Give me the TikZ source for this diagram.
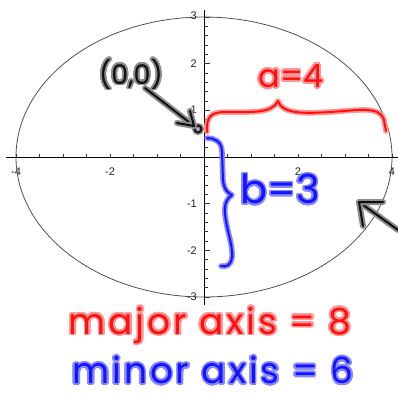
\documentclass[tikz,border=0pt]{standalone}
\usepackage{fontspec}
\setmainfont{Liberation Sans}
\newfontfamily\hand{Poppins}
\newfontfamily\handwide[LetterSpace=8]{Poppins}
\usepackage{contour}
\contourlength{1.7pt}
\contournumber{24}
\definecolor{inkred}{RGB}{255,15,15}
\definecolor{halored}{RGB}{255,150,150}
\definecolor{inkblue}{RGB}{20,20,255}
\definecolor{haloblue}{RGB}{135,135,255}
\definecolor{inkblack}{RGB}{15,15,15}
\definecolor{halogray}{RGB}{140,140,140}
\definecolor{curvegray}{RGB}{80,80,80}
\tikzset{
  redstroke/.style={draw=inkred, line width=2pt, line cap=round, line join=round,
    preaction={draw=halored, line width=5.5pt, line cap=round, line join=round}},
  bluestroke/.style={draw=inkblue, line width=2pt, line cap=round, line join=round,
    preaction={draw=haloblue, line width=5.5pt, line cap=round, line join=round}},
  blackstroke/.style={draw=inkblack, line width=2pt, line cap=round, line join=round,
    preaction={draw=halogray, line width=6pt, line cap=round, line join=round}},
  ticklab/.style={font=\fontsize{11}{11}\selectfont, inner sep=0pt, text=black!85},
  handtext/.style={inner sep=0pt},
  axisline/.style={draw=black, line width=0.9pt},
  tickline/.style={draw=black!80, line width=0.6pt}
}
\begin{document}
\begin{tikzpicture}[x=1pt,y=-1pt]
\useasboundingbox[fill=white] (0,0) rectangle (398,394);
% ellipse
\draw[curvegray, line width=0.8pt] (204,157) ellipse [x radius=188, y radius=140];
% axes
\coordinate (xl) at (6,157);
\coordinate (xr) at (398,157);
\coordinate (yt) at (204,10);
\coordinate (yb) at (204,305);
\draw[axisline] (xl) -- (xr);
\draw[axisline] (yt) -- (yb);
% x ticks
\foreach \k in {-8,...,-1,1,2,...,8}{
  \pgfmathsetmacro{\xx}{204+\k*23.5}
  \draw[tickline] (\xx,157) -- (\xx,153.5);
}
% y ticks
\foreach \k in {-15,...,-1,1,2,...,15}{
  \pgfmathsetmacro{\yy}{157-\k*9.333}
  \draw[tickline] (204,\yy) -- (207.5,\yy);
}
\foreach \k in {-3,...,-1,1,2,3}{
  \pgfmathsetmacro{\yy}{157-\k*46.67}
  \draw[tickline] (204,\yy) -- (210,\yy);
}
% tick labels
\node[ticklab] (xm4) at (16,172) {-4};
\node[ticklab] (xm2) at (110,172) {-2};
\node[ticklab] (xp2) at (298,172) {2};
\node[ticklab] (xp4) at (392,172) {4};
\node[ticklab, anchor=east] (yp3) at (197,16) {3};
\node[ticklab, anchor=east] (yp2) at (197,64) {2};
\node[ticklab, anchor=east] (yp1) at (197,110) {1};
\node[ticklab, anchor=east] (ym1) at (197,204) {-1};
\node[ticklab, anchor=east] (ym2) at (197,251) {-2};
\node[ticklab, anchor=east] (ym3) at (197,297) {-3};
% origin marker and label
\node[handtext] (zero) at (131,75) {\hand\fontsize{27}{27}\selectfont\contour{halogray}{\textcolor{inkblack}{(0,0)}}};
\node[circle, draw=inkblack, line width=1.8pt, minimum size=7pt, inner sep=0pt,
      preaction={draw=halogray, line width=5pt}] (dot) at (198,129) {};
\coordinate (tipA) at (194,126);
\draw[blackstroke] (145,88) -- (tipA);
\draw[blackstroke] (177,123) -- (tipA) -- (190,111);
% red brace (a)
\draw[redstroke] (207,132) .. controls (206,118) and (210,112) .. (225,112)
  .. controls (250,112) and (272,114) .. (278,101)
  .. controls (282,113) and (300,114) .. (330,112)
  .. controls (360,110) and (380,106) .. (384,120) -- (386,131);
\node[handtext] (alab) at (291,77) {\hand\fontsize{32}{32}\selectfont\contour{halored}{\textcolor{inkred}{a=4}}};
% blue brace (b)
\draw[bluestroke] (207,138) .. controls (214,138) and (222,141) .. (222,152)
  -- (223,180) .. controls (224,190) and (228,193) .. (232,195)
  .. controls (227,198) and (224,204) .. (225,214)
  .. controls (227,232) and (233,245) .. (232,257)
  .. controls (231,266) and (226,267) .. (221,266);
\node[handtext] (blab) at (280,190) {\hand\fontsize{40}{40}\selectfont\contour{haloblue}{\textcolor{inkblue}{b=3}}};
% right arrow
\coordinate (tipB) at (359,202);
\coordinate (tailB) at (398,230);
\draw[blackstroke] (tailB) -- (tipB);
\draw[blackstroke] (383,202) -- (tipB) -- (363,226);
% captions
\node[handtext] (major) at (210,326) {\handwide\fontsize{36}{36}\selectfont\contour{halored}{\textcolor{inkred}{major axis = 8}}};
\node[handtext] (minor) at (213,371) {\handwide\fontsize{36}{36}\selectfont\contour{haloblue}{\textcolor{inkblue}{minor axis = 6}}};
\end{tikzpicture}
\end{document}
